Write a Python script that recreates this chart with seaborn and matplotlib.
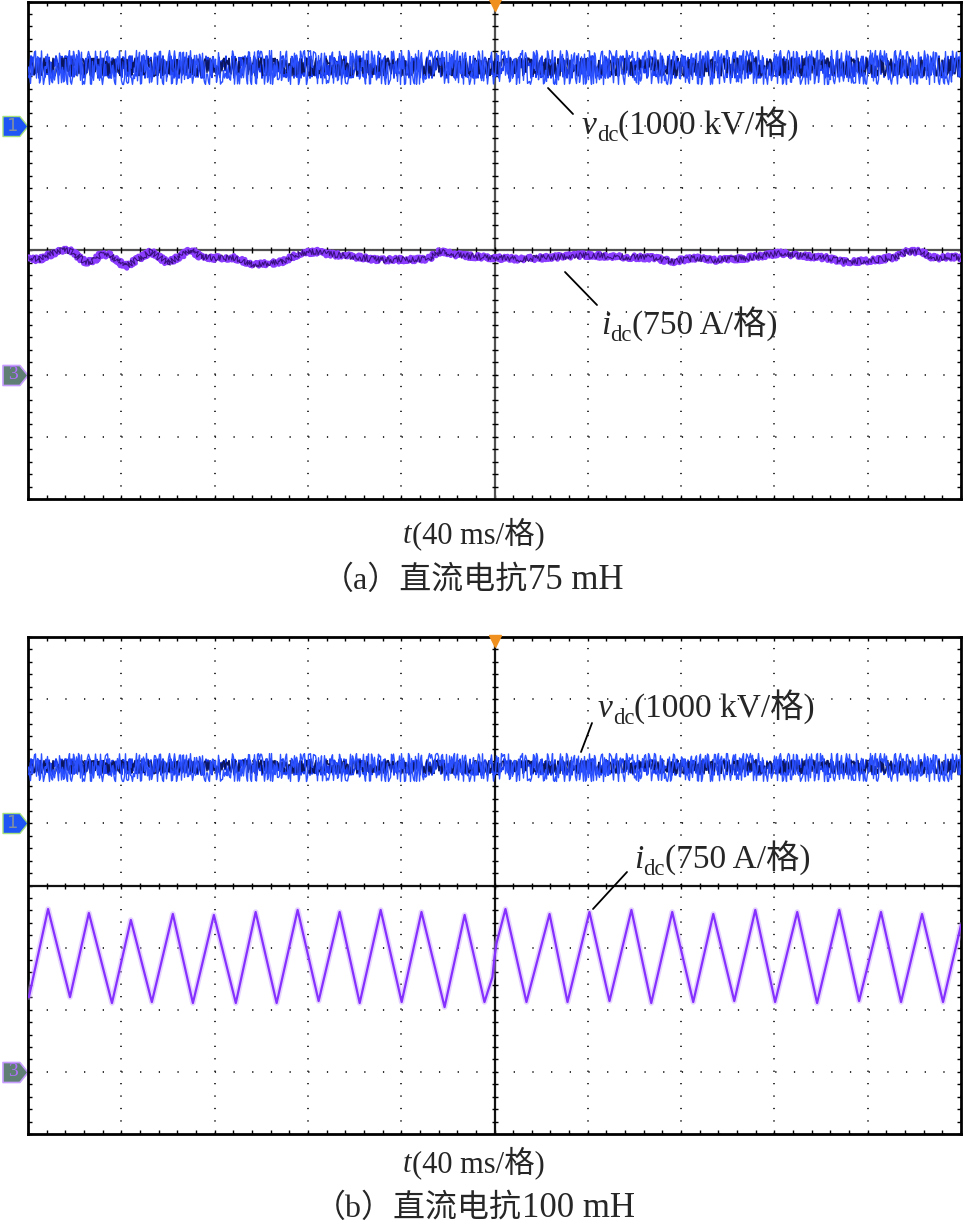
import numpy as np
import pandas as pd
import seaborn as sns
import matplotlib.pyplot as plt
from matplotlib.path import Path
from matplotlib.lines import Line2D
import matplotlib.transforms as mtransforms

# scope settings (per division)
T_DIV = 40       # ms/div
V_DIV = 1000     # kV/div
I_DIV = 750      # A/div
T_END = 400      # 10 div

# (a) 75 mH: dc voltage level and dc current samples
vdc_a = 940      # kV (noisy band)
gnd_v_a, gnd_i_a = 2.0, -2.0     # channel ground markers, div
idc_a_t = [0.4, 4.3, 14.1, 18.4, 24.4, 27.8, 30.8, 35.5, 41.5, 52.7,
           60.0, 69.8, 74.1, 80.1, 88.7, 97.2, 108.4, 116.9, 124.2, 128.5,
           137.0, 151.2, 171.3, 176.9, 184.2, 192.7, 200.0, 210.7, 228.7, 237.3,
           253.5, 268.5, 275.8, 285.7, 294.2, 308.4, 316.9, 322.9, 328.5, 342.6,
           349.9, 364.0, 372.6, 376.9, 382.9, 388.4, 397.0, 400.0]
idc_a = [1422, 1382, 1503, 1491, 1362, 1362, 1443, 1443, 1302, 1483,
         1346, 1503, 1422, 1407, 1407, 1322, 1358, 1467, 1483, 1455,
         1431, 1382, 1394, 1491, 1443, 1422, 1407, 1394, 1422, 1443,
         1422, 1407, 1362, 1407, 1382, 1407, 1443, 1467, 1443, 1407,
         1358, 1382, 1422, 1483, 1483, 1407, 1419, 1410]

# (b) 100 mH
vdc_b = 910      # kV
gnd_v_b, gnd_i_b = 1.0, -3.0
idc_b_t = [0.4, 8.6, 18.0, 26.1, 36.0, 44.1, 53.1, 62.1, 70.7, 79.7,
           89.1, 97.6, 106.6, 115.6, 124.6, 133.6, 142.2, 151.2, 160.2, 168.7,
           178.6, 187.2, 195.7, 199.1, 200.0, 200.9, 204.7, 213.7, 223.6, 231.3,
           240.7, 249.3, 258.7, 267.2, 276.2, 285.2, 293.8, 302.8, 311.8, 320.3,
           329.8, 338.3, 347.8, 356.3, 365.7, 374.3, 383.3, 392.3, 400.0]
idc_b = [903, 1966, 903, 1918, 831, 1834, 843, 1906, 831, 1894,
         831, 1930, 831, 1955, 855, 1930, 831, 1955, 843, 1930,
         782, 1894, 843, 1145, 1386, 1556, 1966, 843, 1906, 843,
         1930, 855, 1955, 831, 1930, 843, 1906, 855, 1955, 843,
         1930, 831, 1955, 855, 1930, 843, 1906, 843, 1773]

W, H = 963, 1224
sns.set_style('white')
plt.rcParams['font.family'] = ['Liberation Serif', 'Noto Sans CJK SC']
plt.rcParams['lines.scale_dashes'] = False
FONT = ['Liberation Serif', 'Noto Sans CJK SC']

fig = plt.figure(figsize=(W / 100, H / 100), dpi=100)
ax_a = fig.add_axes([28 / W, 1 - 499 / H, 933 / W, 497.5 / H])
ax_b = fig.add_axes([28 / W, 1 - 1134 / H, 933 / W, 497 / H])

tag = Path([(-1, -0.8), (0.35, -0.8), (1, 0), (0.35, 0.8), (-1, 0.8), (-1, -0.8)],
           [1, 2, 2, 2, 2, 79])


def scope(ax, vdc, gv, t_i, i_vals, gi, v_noise, i_noise, center_col):
    ax.set_xlim(0, T_END)
    ax.set_ylim(-4, 4)
    ax.set_xticks(np.arange(0, T_END + 1, T_DIV))
    ax.set_yticks(np.arange(-4, 5, 1))
    ax.set_xticks(np.arange(0, T_END + 1, T_DIV / 5), minor=True)
    ax.set_yticks(np.arange(-4, 4.01, 0.2), minor=True)
    ax.tick_params(which='both', labelleft=False, labelbottom=False,
                   direction='in', length=3, width=1, color='k',
                   top=True, right=True, left=True, bottom=True)
    ax.grid(axis='x', which='major', color='#222222', lw=1.3, ls=(0, (0.9, 8.05)))
    ax.grid(axis='y', which='major', color='#222222', lw=1.3, ls=(0, (0.9, 12.55)))
    for s in ax.spines.values():
        s.set_color('black')
        s.set_linewidth(2)

    # crosshair with 1/5 div marks
    ax.axhline(0, color=center_col, lw=1.6, zorder=1)
    ax.axvline(T_END / 2, color=center_col, lw=1.6, zorder=1)
    mx = np.arange(T_DIV / 5, T_END, T_DIV / 5)
    my = np.arange(-3.8, 4, 0.2)
    ax.plot(mx, np.zeros_like(mx), ls='none', marker='|', ms=5, mew=1, color='k', zorder=1)
    ax.plot(np.full_like(my, T_END / 2), my, ls='none', marker='_', ms=5, mew=1, color='k', zorder=1)

    # dc voltage (noisy band drawn with a sketch style)
    lvl = gv + vdc / V_DIV
    for col, lw, sc, ln, rnd in [('#1a3cf0', 1.3, v_noise[0], 1.6, 3.0),
                                 ('#0a1660', 1.1, v_noise[0] * 0.8, 2.3, 2.6),
                                 ('#2a50ff', 1.0, v_noise[1], 3.1, 4.0)]:
        sns.lineplot(x=[0, T_END], y=[lvl, lvl], ax=ax, color=col, lw=lw, zorder=3)
        ax.lines[-1].set_sketch_params(scale=sc, length=ln, randomness=rnd)

    # dc current
    df = pd.DataFrame({'t': t_i, 'div': np.array(i_vals) / I_DIV + gi})
    if i_noise:
        sns.lineplot(data=df, x='t', y='div', ax=ax, color='#8a3cff', lw=3.5, zorder=3)
        ax.lines[-1].set_sketch_params(scale=2.5, length=2, randomness=3)
        sns.lineplot(data=df, x='t', y='div', ax=ax, color='#3a1080', lw=0.8, zorder=4)
        ax.lines[-1].set_sketch_params(scale=3, length=2.7, randomness=3)
    else:
        sns.lineplot(data=df, x='t', y='div', ax=ax, color='#c9a0ff', lw=4, alpha=0.45, zorder=3)
        sns.lineplot(data=df, x='t', y='div', ax=ax, color='#8530ff', lw=1.6, zorder=4)

    # trigger and channel markers
    ax.plot(T_END / 2, 3.94, marker='v', ms=9, color='#f0901e', mec='#f0901e', clip_on=False, zorder=6)
    bt = mtransforms.blended_transform_factory(ax.transAxes, ax.transData)
    ax.plot(-0.0134, gv, marker=tag, ms=18, color='#1f55f5', mec='#a6e07a', mew=1,
            transform=bt, clip_on=False)
    ax.text(-0.0165, gv, '1', color='#8090a0', fontsize=13, ha='center', va='center',
            transform=bt, family='DejaVu Sans')
    ax.plot(-0.0134, gi, marker=tag, ms=18, color='#5f7f75', mec='#c79cff', mew=1.2,
            transform=bt, clip_on=False)
    ax.text(-0.0165, gi, '3', color='#b070ff', fontsize=14, ha='center', va='center',
            transform=bt)


scope(ax_a, vdc_a, gnd_v_a, idc_a_t, idc_a, gnd_i_a, (11, 17), True, '#505050')
scope(ax_b, vdc_b, gnd_v_b, idc_b_t, idc_b, gnd_i_b, (8, 14), False, '#111111')


def chain(ax, x, y, sym, rest, size, sub=None, sym_style='italic', rest_size=None):
    yb = H - y
    t1 = ax.annotate(sym, xy=(x, yb), xycoords='figure pixels', style=sym_style,
                     fontsize=size, va='baseline', family=FONT, annotation_clip=False)
    prev = t1
    if sub:
        prev = ax.annotate(sub, xy=(1, yb - 7), xycoords=(t1, 'figure pixels'),
                           fontsize=size * 0.68, va='baseline', ha='left', family=FONT)
    ax.annotate(rest, xy=(1, yb), xycoords=(prev, 'figure pixels'),
                fontsize=rest_size or size, va='baseline', ha='left', family=FONT)


def leader(x1, y1, x2, y2):
    fig.add_artist(Line2D([x1 / W, x2 / W], [1 - y1 / H, 1 - y2 / H], color='k', lw=1.3))


chain(ax_a, 582, 134, 'v', '(1000 kV/格)', 24, 'dc')
leader(548, 88, 573, 114)
chain(ax_a, 601, 334, 'i', '(750 A/格)', 24, 'dc')
leader(565, 272, 597, 305)
chain(ax_b, 598, 717, 'v', '(1000 kV/格)', 24, 'dc')
leader(592, 723, 581, 752)
chain(ax_b, 634, 868, 'i', '(750 A/格)', 24, 'dc')
leader(627, 872, 593, 909)

chain(ax_b, 403, 543, 't', '(40 ms/格)', 22)
chain(ax_b, 322, 589, '（a）直流电抗', '75 mH', 23, sym_style='normal', rest_size=25)
chain(ax_b, 314, 1217, '（b）直流电抗', '100 mH', 23, sym_style='normal', rest_size=25)
chain(ax_b, 403, 1172, 't', '(40 ms/格)', 22)

fig.savefig('out.png', dpi=100)
